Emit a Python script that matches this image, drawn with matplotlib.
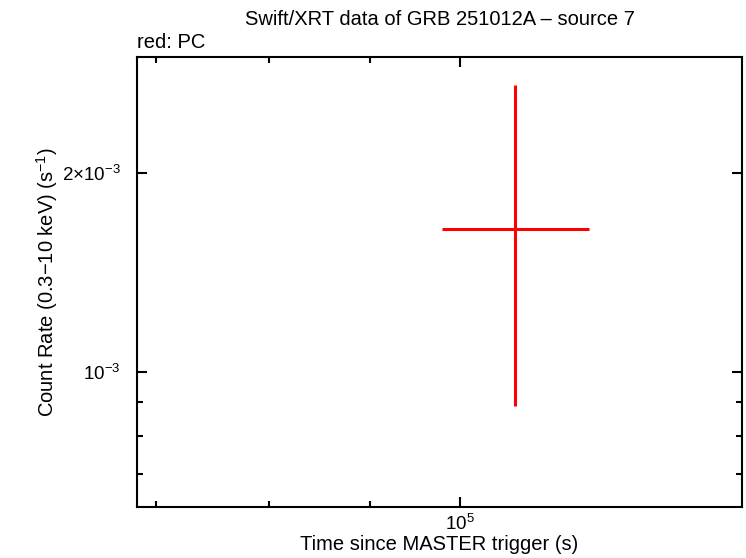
"""
Swift/XRT light curve of GRB 251012A, source 7 (PC mode).
"""

import matplotlib
matplotlib.use('Agg')
import matplotlib.pyplot as plt
from matplotlib.ticker import FixedLocator, FixedFormatter, NullFormatter

plt.rcParams['font.family'] = ['Liberation Sans', 'DejaVu Sans']
plt.rcParams['mathtext.fontset'] = 'custom'
plt.rcParams['mathtext.rm'] = 'Liberation Sans'
plt.rcParams['mathtext.it'] = 'Liberation Sans:italic'

# PC data (time in s, rate in counts/s)
pc_time = [106700]
pc_time_lo = [97900]
pc_time_hi = [116300]
pc_rate = [1.65e-3]
pc_rate_lo = [8.9e-4]
pc_rate_hi = [2.72e-3]

x_major = [1e5]
x_major_labels = [r'$10^{5}$']
x_minor = [7e4, 8e4, 9e4]
y_major = [1e-3, 2e-3]
y_major_labels = [r'$10^{-3}$', r'$2{\times}10^{-3}$']
y_minor = [7e-4, 8e-4, 9e-4]

fig = plt.figure(figsize=(7.46, 5.58), dpi=100)
ax = fig.add_axes([0.1837, 0.0914, 0.8109, 0.8064])

xerr = [[t - lo for t, lo in zip(pc_time, pc_time_lo)],
        [hi - t for t, hi in zip(pc_time, pc_time_hi)]]
yerr = [[r - lo for r, lo in zip(pc_rate, pc_rate_lo)],
        [hi - r for r, hi in zip(pc_rate, pc_rate_hi)]]
ax.errorbar(pc_time, pc_rate, xerr=xerr, yerr=yerr, fmt='none',
            ecolor='#ff0000', elinewidth=2.2, capsize=0)

ax.set_xscale('log')
ax.set_yscale('log')
ax.set_xlim(68500, 139200)
ax.set_ylim(6.25e-4, 3.0e-3)

ax.xaxis.set_major_locator(FixedLocator(x_major))
ax.xaxis.set_major_formatter(FixedFormatter(x_major_labels))
ax.xaxis.set_minor_locator(FixedLocator(x_minor))
ax.xaxis.set_minor_formatter(NullFormatter())
ax.yaxis.set_major_locator(FixedLocator(y_major))
ax.yaxis.set_major_formatter(FixedFormatter(y_major_labels))
ax.yaxis.set_minor_locator(FixedLocator(y_minor))
ax.yaxis.set_minor_formatter(NullFormatter())

ax.tick_params(which='both', direction='in', top=True, right=True,
               width=1.5, labelsize=13.5)
ax.tick_params(axis='y', which='major', length=7, pad=12)
ax.tick_params(axis='x', which='major', length=7, pad=5)
ax.tick_params(which='minor', length=4)
for s in ax.spines.values():
    s.set_linewidth(1.5)

ax.set_xlabel('Time since MASTER trigger (s)', fontsize=14.5, labelpad=1)
ax.set_ylabel(r'Count Rate (0.3$-$10 keV) (s$^{-1}$)', fontsize=14.5, labelpad=1)
ax.set_title('Swift/XRT data of GRB 251012A \u2013 source 7', fontsize=14.5, pad=23)
ax.text(0.0, 1.012, 'red: PC', transform=ax.transAxes, fontsize=14.5,
        ha='left', va='bottom')

plt.savefig('out.png', dpi=100)
